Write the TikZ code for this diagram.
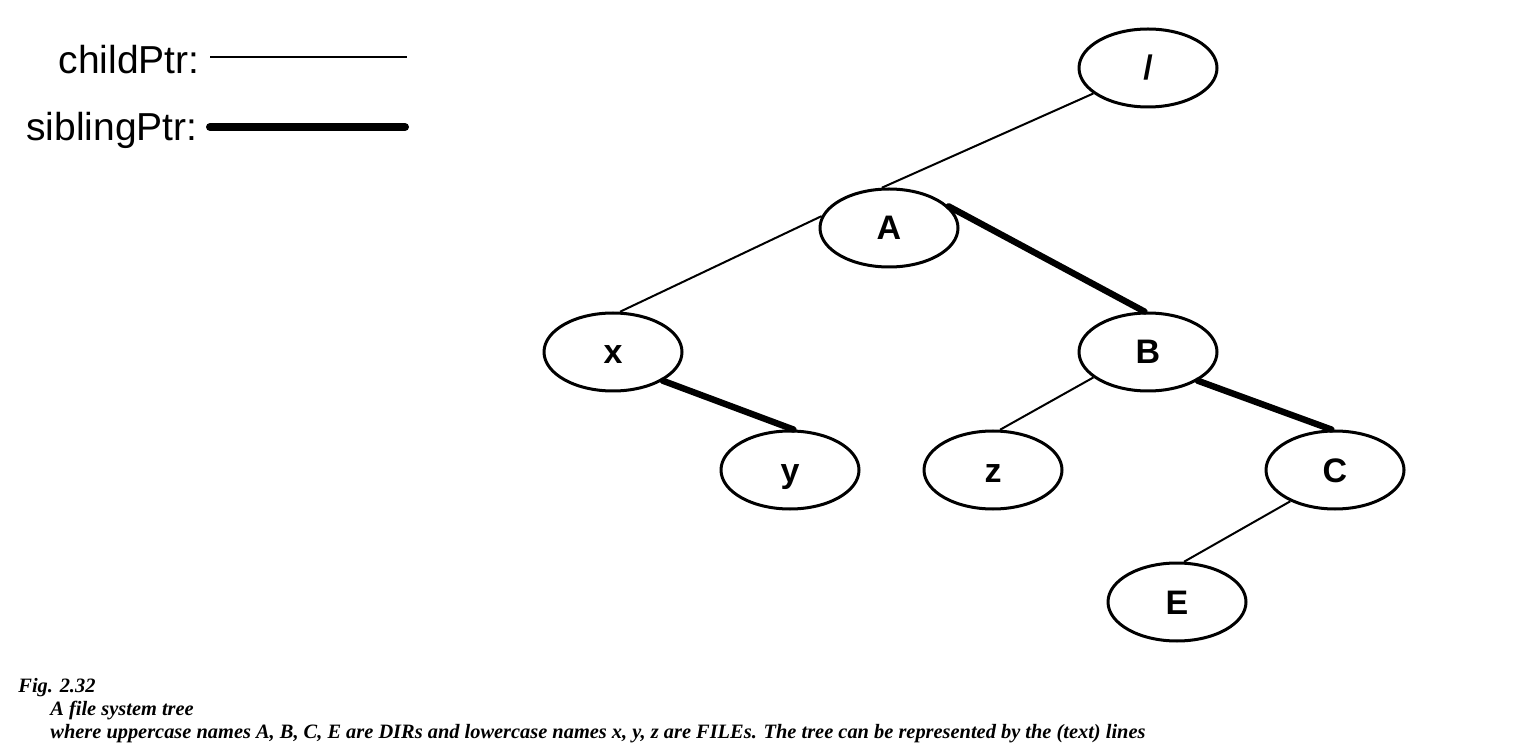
\documentclass[tikz,border=0pt]{standalone}
\usepackage{fontspec}
\setmainfont{Liberation Sans}
\newfontfamily\capfont{Liberation Serif}
\usetikzlibrary{shapes.geometric}
\begin{document}
\begin{tikzpicture}[x=0.5pt,y=-0.5pt,
  fnode/.style={ellipse,draw,line width=1.5pt,minimum width=69pt,minimum height=39pt,inner sep=0pt,text height=12pt,text depth=0pt,font=\bfseries\fontsize{17}{20}\selectfont},
  childln/.style={line width=1pt},
  sibln/.style={line width=3.2pt,line cap=round},
  lbl/.style={font=\fontsize{19.5}{22}\selectfont,anchor=east,inner sep=0pt},
  captext/.style={font=\capfont\bfseries\itshape\fontsize{10.2}{12}\selectfont,anchor=west,inner sep=0pt}]
\useasboundingbox (0,0) rectangle (1526,753);
\node[fnode] (root) at (1148,68) {/};
\node[fnode] (A) at (889,228) {A};
\node[fnode] (x) at (613,352) {x};
\node[fnode] (B) at (1148,352) {B};
\node[fnode] (y) at (790,470) {y};
\node[fnode] (z) at (993,470) {z};
\node[fnode] (C) at (1335,470) {C};
\node[fnode] (E) at (1177,602) {E};
\draw[childln] (root.205) -- (A.100);
\draw[childln] (A.170) -- (x.80);
\draw[sibln] (A.20) -- (B.95);
\draw[sibln] (x.330) -- (y.85);
\draw[childln] (B.205) -- (z.80);
\draw[sibln] (B.330) -- (C.95);
\draw[childln] (C.215) -- (E.80);
\node[lbl] (cl) at (200,60) {childPtr:};
\node[lbl] (sl) at (198,130) {siblingPtr:};
\coordinate (c1) at (210,57); \coordinate (c2) at (407,57);
\coordinate (s1) at (210,127); \coordinate (s2) at (405,127);
\draw[line width=1pt] (c1) -- (c2);
\draw[line width=4pt,line cap=round] (s1) -- (s2);
\node[captext] (f) at (18,688) {Fig. 2.32};
\node[captext] (t1) at (50,711) {A file system tree};
\node[captext] (t2) at (50,734) {where uppercase names A, B, C, E are DIRs and lowercase names x, y, z are FILEs. The tree can be represented by the (text) lines};
\end{tikzpicture}
\end{document}
